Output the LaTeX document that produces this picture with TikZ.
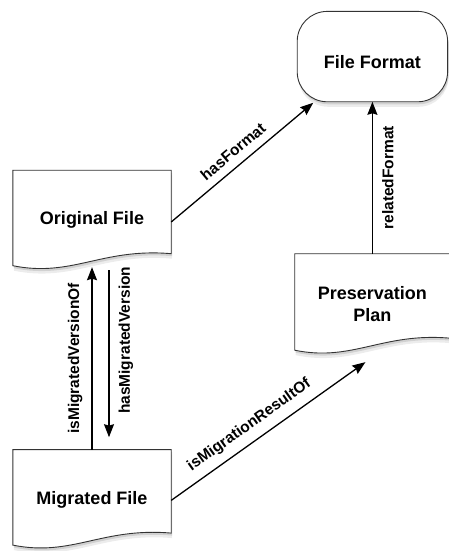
\documentclass[tikz,border=0pt]{standalone}
\usepackage{fontspec}
\setmainfont{Liberation Sans}
\usetikzlibrary{positioning, arrows.meta, backgrounds, shadows}

\begin{document}
\begin{tikzpicture}[
      x=1pt, y=1pt,
      node distance=150pt and 120pt,
      box/.style={minimum width=158pt, minimum height=89pt, align=center, inner sep=0pt, font=\fontsize{18}{22}\selectfont\bfseries},
      outline/.style={draw=black!80, line width=0.9pt, fill=white,
        drop shadow={shadow xshift=1pt, shadow yshift=-5pt, opacity=0.15},
        drop shadow={shadow xshift=1pt, shadow yshift=-2.5pt, opacity=0.25}},
      arrow/.style={-{Stealth[length=13pt, width=10pt, inset=1.5pt]}, line width=1.3pt},
      backarrow/.style={{Stealth[length=13pt, width=10pt, inset=1.5pt]}-, line width=1.3pt},
      rel/.style={font=\fontsize{15.5}{18}\selectfont\bfseries, inner sep=3pt}
    ]
      \useasboundingbox (0,0) rectangle (449,551);
      % 节点用相对位置摆放，外框画在背景层
      \node[box] (orig) at (92,331) {Original File};
      \node[box, below=190pt of orig] (mig) {Migrated File};
      \node[box, minimum width=155pt, minimum height=90pt, right=123.5pt of orig, yshift=-84pt] (pres) {Preservation\\Plan};
      \node[box, minimum width=150pt, minimum height=90pt, above=152pt of pres] (fmt) {File Format};

      \begin{scope}[on background layer]
        \foreach \n in {orig, mig, pres} {
          \draw[outline] ([yshift=5pt]\n.north west) -- ([yshift=5pt]\n.north east) -- ([yshift=11pt]\n.south east)
            .. controls ([xshift=10pt, yshift=17pt]\n.south) and ([xshift=-20pt, yshift=-13pt]\n.south)
            .. ([yshift=-1pt]\n.south west) -- cycle;
        }
        \draw[outline, rounded corners=30pt] ([yshift=5pt]fmt.south west) rectangle ([yshift=5pt]fmt.north east);
      \end{scope}

      \draw[arrow] ([yshift=-2pt]orig.east) -- node[rel, sloped, above=5pt] {hasFormat} ([xshift=16pt, yshift=4pt]fmt.south west);
      \draw[arrow] ([yshift=-1pt]mig.east) -- node[rel, sloped, pos=0.45, above=5pt] {isMigrationResultOf} ([xshift=-7pt, yshift=-13pt]pres.south);
      \draw[arrow] ([yshift=5pt]pres.north) -- node[rel, sloped, below=6pt] {relatedFormat} ([yshift=5pt]fmt.south);
      \draw[arrow] ([yshift=5pt]mig.north) -- node[rel, sloped, above=6pt] {isMigratedVersionOf} ([yshift=-2.5pt]orig.south);
      \draw[backarrow] ([xshift=17pt, yshift=17.5pt]mig.north) -- node[rel, sloped, pos=0.58, below=6pt] {hasMigratedVersion} ([xshift=17pt, yshift=-5.5pt]orig.south);
    \end{tikzpicture}
\end{document}
